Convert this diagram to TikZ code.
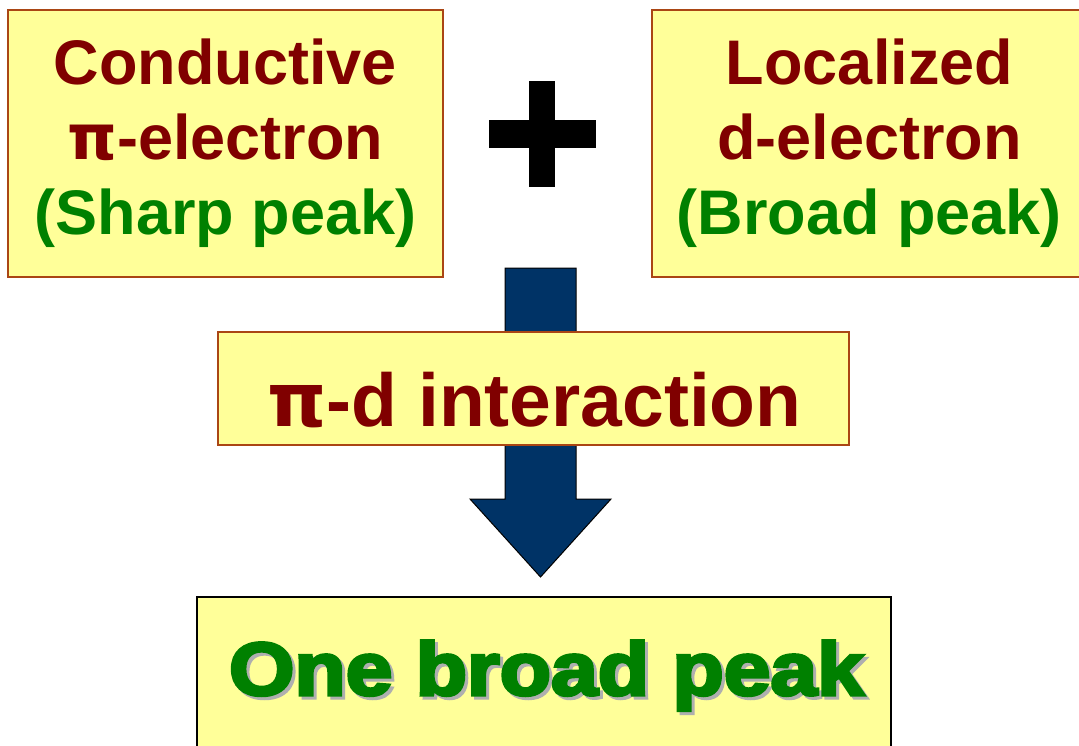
\documentclass[tikz,border=0pt]{standalone}
\usepackage{fontspec}
\setmainfont{Liberation Sans}
\newfontfamily\heavyfont{Liberation Sans}[BoldFeatures={FakeBold=4}]
\newfontfamily\pifont{DejaVu Sans}
\newcommand{\mypi}{{\pifont\bfseries π}}
\definecolor{boxfill}{RGB}{255,255,153}
\definecolor{boxline}{RGB}{170,70,20}
\definecolor{darkred}{RGB}{128,0,0}
\definecolor{dkgreen}{RGB}{0,128,0}
\definecolor{navy}{RGB}{0,51,102}
\definecolor{shadowgray}{RGB}{175,175,175}
\tikzset{
  ybox/.style={draw=boxline, fill=boxfill, line width=1.5pt, inner sep=0pt, outer sep=0pt, align=center},
  topfont/.style={font=\fontsize{63}{75}\selectfont\bfseries},
  midfont/.style={font=\fontsize{75}{80}\selectfont\bfseries, text=darkred, inner sep=0pt, anchor=base},
  botfont/.style={font=\fontsize{75}{80}\selectfont\heavyfont\bfseries, inner sep=0pt, anchor=base},
  blockarrow/.style={fill=navy, draw=black, line width=1pt, line join=miter},
}
\begin{document}
\begin{tikzpicture}[x=1pt,y=-1pt]
\useasboundingbox (0,0) rectangle (1079,745);
% block arrow (behind middle box)
\coordinate (atop) at (540.5,268);
\coordinate (atip) at (540.5,577);
\draw[blockarrow] ([xshift=-35.5pt]atop) -- ([xshift=35.5pt]atop)
  -- ([xshift=35.5pt,yshift=78pt]atip) -- ([xshift=70.5pt,yshift=78pt]atip)
  -- (atip) -- ([xshift=-70.5pt,yshift=78pt]atip)
  -- ([xshift=-35.5pt,yshift=78pt]atip) -- cycle;
% top boxes
\node[ybox, topfont, minimum width=435pt, minimum height=267pt] (cond) at (225.5,143.5)
  {\textcolor{darkred}{Conductive}\\\textcolor{darkred}{\mypi-electron}\\\textcolor{dkgreen}{(Sharp peak)}};
\node[ybox, topfont, minimum width=435pt, minimum height=267pt] (loc) at (869.5,143.5)
  {\textcolor{darkred}{Localized}\\\textcolor{darkred}{d-electron}\\\textcolor{dkgreen}{(Broad peak)}};
% plus sign
\coordinate (plus) at (542,134);
\fill[black] ([xshift=-13pt,yshift=-53pt]plus) rectangle ([xshift=13pt,yshift=53pt]plus);
\fill[black] ([xshift=-53pt,yshift=-14pt]plus) rectangle ([xshift=54pt,yshift=14pt]plus);
% middle box
\node[ybox, minimum width=631pt, minimum height=113pt] (mid) at (533.5,388.5) {};
\node[midfont] (midtxt) at (534.5,426) {\mypi-d interaction};
% bottom box
\node[ybox, draw=black, minimum width=694pt, minimum height=200pt, anchor=north] (bot) at (544,597) {};
\node[botfont] (bottxt) at (546.5,695)
  {\makebox[0pt][l]{\hspace{3pt}\raisebox{-3pt}{\textcolor{shadowgray}{\scalebox{1.12}[1]{One broad peak}}}}\textcolor{dkgreen}{\scalebox{1.12}[1]{One broad peak}}};
\end{tikzpicture}
\end{document}
